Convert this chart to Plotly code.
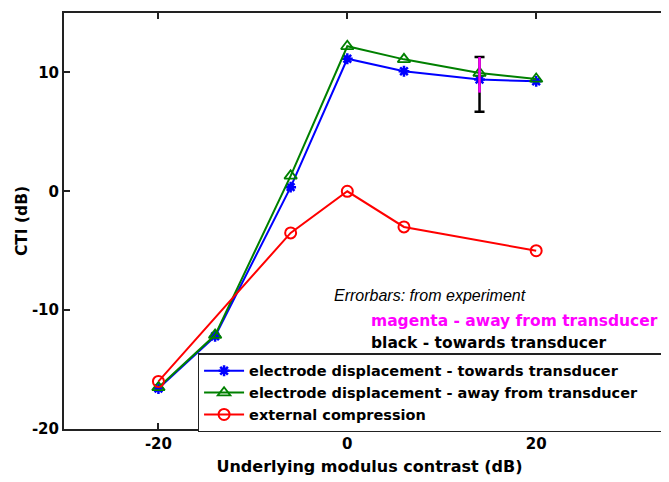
import plotly.graph_objects as go

# Data
contrast = [-20, -14, -6, 0, 6, 14, 20]
towards = [-16.6, -12.2, 0.35, 11.15, 10.1, 9.4, 9.25]
away = [-16.5, -12.1, 1.3, 12.2, 11.1, 9.95, 9.45]
ext_contrast = [-20, -6, 0, 6, 20]
ext_comp = [-16.0, -3.5, 0.0, -3.0, -5.0]

err_x = [14]
err_black_y = [9.4]
err_black_plus = [1.9]
err_black_minus = [2.7]
err_mag_y = [9.95]
err_mag_plus = [1.35]
err_mag_minus = [1.65]

xticks = [-20, 0, 20]
yticks = [-20, -10, 0, 10]

FONT = "DejaVu Sans"
IFONT = "Liberation Sans"
PAD = "\u00a0" * 6

fig = go.Figure()
fig.add_trace(go.Scatter(
    x=contrast, y=towards, mode="lines+markers",
    name="<b>electrode displacement - towards transducer</b>",
    line=dict(color="#0000ff", width=2),
    marker=dict(symbol="asterisk-open", size=9, color="#0000ff", line=dict(color="#0000ff", width=2.5)),
))
fig.add_trace(go.Scatter(
    x=contrast, y=away, mode="lines+markers",
    name="<b>electrode displacement - away from transducer</b>" + PAD,
    line=dict(color="#008000", width=2),
    marker=dict(symbol="triangle-up-open", size=11, color="#008000", line=dict(color="#008000", width=1.8)),
))
fig.add_trace(go.Scatter(
    x=ext_contrast, y=ext_comp, mode="lines+markers",
    name="<b>external compression</b>",
    line=dict(color="#ff0000", width=2),
    marker=dict(symbol="circle-open", size=11, color="#ff0000", line=dict(color="#ff0000", width=2)),
))
fig.add_trace(go.Scatter(
    x=err_x, y=err_black_y, mode="markers", showlegend=False,
    marker=dict(size=1, color="rgba(0,0,0,0)"),
    error_y=dict(type="data", array=err_black_plus, arrayminus=err_black_minus,
                 color="#000000", thickness=2.5, width=5),
))
fig.add_trace(go.Scatter(
    x=err_x, y=err_mag_y, mode="markers", showlegend=False,
    marker=dict(size=1, color="rgba(0,0,0,0)"),
    error_y=dict(type="data", array=err_mag_plus, arrayminus=err_mag_minus,
                 color="#ff00ff", thickness=2.5, width=0),
))

fig.add_annotation(x=0.439, y=0.322, xref="paper", yref="paper", xanchor="left", yanchor="middle",
                   text="<i>Errorbars: from experiment</i>", showarrow=False,
                   font=dict(family=IFONT, size=16, color="#000000"))
fig.add_annotation(x=0.499, y=0.259, xref="paper", yref="paper", xanchor="left", yanchor="middle",
                   text="<b>magenta - away from transducer</b>", showarrow=False,
                   font=dict(family=FONT, size=15.5, color="#ff00ff"))
fig.add_annotation(x=0.499, y=0.207, xref="paper", yref="paper", xanchor="left", yanchor="middle",
                   text="<b>black - towards transducer</b>", showarrow=False,
                   font=dict(family=FONT, size=15.5, color="#000000"))

fig.update_layout(
    width=669, height=482,
    margin=dict(l=56, r=0, t=5, b=61),
    paper_bgcolor="white", plot_bgcolor="white",
    font=dict(family=FONT, size=14, color="#000000"),
    showlegend=True,
    legend=dict(x=0.2186, y=-0.008, xanchor="left", yanchor="bottom",
                bgcolor="white", bordercolor="#222222", borderwidth=1.5,
                font=dict(family=FONT, size=14.5, color="#000000"),
                tracegroupgap=0, itemwidth=40),
    xaxis=dict(range=[-30, 34.7], tickvals=xticks, ticktext=["<b>-20</b>", "<b>0</b>", "<b>20</b>"],
               ticks="inside", ticklen=6, tickwidth=1.5, tickcolor="#222222",
               showline=True, linecolor="#222222", linewidth=2, mirror="ticks",
               showgrid=False, zeroline=False,
               title=dict(text="<b>Underlying modulus contrast (dB)</b>", font=dict(size=16), standoff=9),
               tickfont=dict(size=15)),
    yaxis=dict(range=[-20, 15], tickvals=yticks, ticktext=["<b>-20</b>", "<b>-10</b>", "<b>0</b>", "<b>10</b>"],
               ticks="inside", ticklen=6, tickwidth=1.5, tickcolor="#222222",
               showline=True, linecolor="#222222", linewidth=2, mirror="ticks",
               showgrid=False, zeroline=False,
               title=dict(text="<b>CTI (dB)</b>", font=dict(size=15.5), standoff=0),
               tickfont=dict(size=15)),
)

fig.write_html("out.html")
